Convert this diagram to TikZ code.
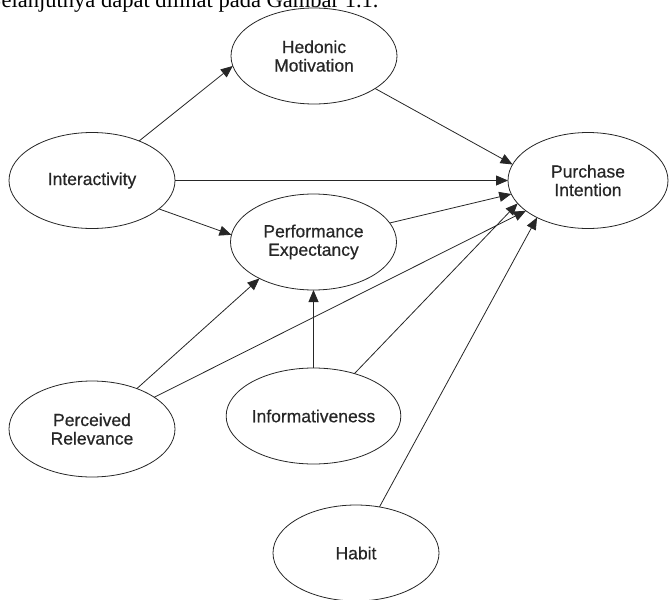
\documentclass[tikz,border=0pt]{standalone}
\usepackage{fontspec}
\setmainfont{Liberation Sans}
\newfontfamily\labelfont[FakeBold=0.6]{Liberation Sans}
\newfontfamily\bodyserif{Liberation Serif}
\usetikzlibrary{shapes.geometric,arrows.meta}
\begin{document}
\begin{tikzpicture}[x=1pt,y=-1pt,
  construct/.style={ellipse, draw=black!85, line width=0.8pt,
    minimum width=166pt, minimum height=96pt, inner sep=0pt, outer sep=0pt,
    align=center, font=\labelfont\fontsize{17.5}{18.5}\selectfont, text=black!85},
  link/.style={draw=black!85, line width=0.8pt,
    -{Triangle[length=12pt,width=10pt]}}]
\useasboundingbox (0,0) rectangle (670,600);
\clip (0,0) rectangle (670,600);

% running text of the page above the figure
\node[anchor=base west, inner sep=0pt, font=\bodyserif\fontsize{22.5}{27}\selectfont]
  (caption) at (-11,7) {Selanjutnya dapat dilihat pada Gambar 1.1.};

% constructs
\node[construct] (hed) at (314,56) {Hedonic\\Motivation};
\node[construct] (int) at (92,180.5) {Interactivity};
\node[construct, minimum width=160pt] (pur) at (588,180.5) {Purchase\\Intention};
\node[construct] (perf) at (313.5,242) {Performance\\Expectancy};
\node[construct] (rel) at (92,429) {Perceived\\Relevance};
\node[construct] (inf) at (313.5,416) {Informativeness};
\node[construct] (hab) at (356,553) {Habit};

% paths
\draw[link] (int.40) -- (hed.187.5);
\draw[link] (hed.-28) -- (pur.168);
\draw[link] (int.east) -- (pur.west);
\draw[link] (int.-23) -- (perf.175);
\draw[link] (perf.14) -- (pur.190.5);
\draw[link] (rel.42) -- (perf.214);
\draw[link] (rel.27) -- (pur.206.5);
\draw[link] (inf.north) -- (perf.south);
\draw[link] (inf.46) -- (pur.198);
\draw[link] (hab.63) -- (pur.216.5);
\end{tikzpicture}
\end{document}
